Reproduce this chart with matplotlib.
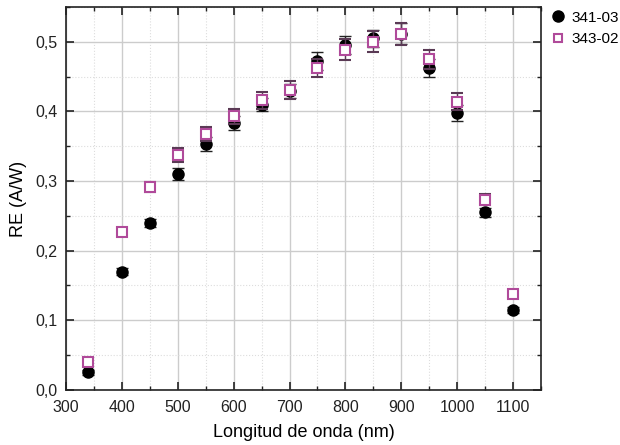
import matplotlib
matplotlib.use("Agg")
import matplotlib.pyplot as plt
from matplotlib.ticker import MultipleLocator, FuncFormatter
from matplotlib.lines import Line2D

plt.rcParams['font.family'] = ['Liberation Sans', 'DejaVu Sans']

wavelength = [340, 400, 450, 500, 550, 600, 650, 700, 750, 800, 850, 900, 950, 1000, 1050, 1100]
re_341 = [0.025, 0.170, 0.240, 0.310, 0.353, 0.383, 0.410, 0.430, 0.473, 0.495, 0.505, 0.512, 0.463, 0.398, 0.255, 0.115]
err_341 = [0.004, 0.005, 0.006, 0.009, 0.010, 0.010, 0.010, 0.010, 0.013, 0.013, 0.012, 0.015, 0.013, 0.011, 0.007, 0.004]
re_343 = [0.040, 0.227, 0.291, 0.337, 0.368, 0.393, 0.416, 0.431, 0.462, 0.489, 0.500, 0.511, 0.475, 0.414, 0.273, 0.138]
err_343 = [0.004, 0.005, 0.007, 0.010, 0.010, 0.011, 0.012, 0.013, 0.013, 0.015, 0.015, 0.016, 0.014, 0.012, 0.008, 0.004]
labels = ["341-03", "343-02"]

purple = "#b04a9a"

fig = plt.figure(figsize=(6.2, 4.45), dpi=100)
ax = fig.add_axes([0.106, 0.124, 0.767, 0.860])

ax.errorbar(wavelength, re_341, yerr=err_341, fmt="o", color="black", ms=8,
            ecolor="#222222", elinewidth=1, capsize=4, zorder=3)
ax.errorbar(wavelength, re_343, yerr=err_343, fmt="s", mfc="white", mec=purple, mew=1.5,
            ms=7, ecolor="#5a3a55", elinewidth=1, capsize=4, zorder=4)

ax.set_xlim(300, 1150)
ax.set_ylim(0, 0.55)
ax.xaxis.set_major_locator(MultipleLocator(100))
ax.xaxis.set_minor_locator(MultipleLocator(50))
ax.yaxis.set_major_locator(MultipleLocator(0.1))
ax.yaxis.set_minor_locator(MultipleLocator(0.05))
ax.yaxis.set_major_formatter(FuncFormatter(lambda v, p: f"{v:.1f}".replace(".", ",")))

ax.grid(which="major", color="#cccccc", lw=1, ls="-")
ax.grid(which="minor", color="#dddddd", lw=0.8, ls=":")
ax.set_axisbelow(True)

ax.tick_params(which="both", direction="in", top=True, right=True, labelsize=11.5, colors="#222222")
ax.tick_params(which="major", length=6, width=1.2)
ax.tick_params(which="minor", length=3, width=1)
ax.tick_params(axis="x", pad=7)
ax.tick_params(axis="y", pad=6)
for s in ax.spines.values():
    s.set_linewidth(1.2)
    s.set_color("#222222")

ax.set_xlabel("Longitud de onda (nm)", fontsize=13, labelpad=7)
ax.set_ylabel("RE (A/W)", fontsize=13, labelpad=6)

handles = [Line2D([], [], ls="none", marker="o", color="black", ms=8),
           Line2D([], [], ls="none", marker="s", mfc="white", mec=purple, mew=1.5, ms=6)]
ax.legend(handles, labels, loc="upper left", bbox_to_anchor=(1.0, 1.015), frameon=False, fontsize=11,
          handletextpad=0.4, borderaxespad=0.2, handlelength=1.0, labelspacing=0.5)

fig.savefig("out.png", dpi=100)
